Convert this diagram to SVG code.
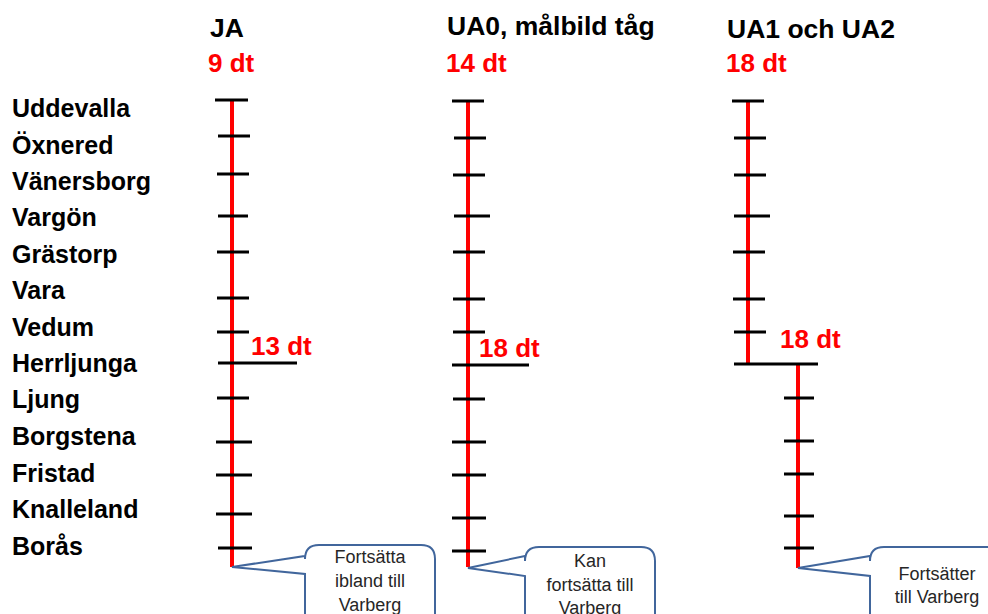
<svg xmlns="http://www.w3.org/2000/svg" width="988" height="614" viewBox="0 0 988 614">
<style>
.st{font-family:"Liberation Sans",Arial,sans-serif;font-weight:bold;font-size:25px;fill:#000}
.hd{font-family:"Liberation Sans",Arial,sans-serif;font-weight:bold;font-size:26.5px;fill:#000}
.rd{font-family:"Liberation Sans",Arial,sans-serif;font-weight:bold;font-size:26px;fill:#ff0000}
.ct{font-family:"Liberation Sans",Arial,sans-serif;font-size:18px;fill:#262626;text-anchor:middle}
.rl{stroke:#ff0000;stroke-width:4;fill:none}
.tk{stroke:#000;stroke-width:3;fill:none}
.co{fill:#fff;stroke:#41669c;stroke-width:2}
</style>
<g id="stations">
<text class="st" x="12" y="117">Uddevalla</text>
<text class="st" x="12" y="154">Öxnered</text>
<text class="st" x="12" y="190">Vänersborg</text>
<text class="st" x="12" y="226">Vargön</text>
<text class="st" x="12" y="263">Grästorp</text>
<text class="st" x="12" y="299">Vara</text>
<text class="st" x="12" y="336">Vedum</text>
<text class="st" x="12" y="372">Herrljunga</text>
<text class="st" x="12" y="408">Ljung</text>
<text class="st" x="12" y="445">Borgstena</text>
<text class="st" x="12" y="482">Fristad</text>
<text class="st" x="12" y="518">Knalleland</text>
<text class="st" x="12" y="555">Borås</text>
</g>
<g id="col-ja">
<text class="hd" x="210" y="37">JA</text>
<text class="rd" x="208" y="72">9 dt</text>
<text class="rd" x="251" y="355">13 dt</text>
<line class="rl" x1="232" y1="99" x2="232" y2="567"/>
<path class="tk" d="M215 100H248M218 136H250M217 174H249M218 216H248M217 252H249M217 298H249M217 332H249M218 363H297M217 398H249M216 442H252M216 475H252M216 514H252M218 548H252"/>
</g>
<g id="col-ua0">
<text class="hd" x="447" y="35">UA0, målbild tåg</text>
<text class="rd" x="446" y="72">14 dt</text>
<text class="rd" x="479" y="357">18 dt</text>
<line class="rl" x1="468" y1="101" x2="468" y2="567"/>
<path class="tk" d="M452 101H484M454 138H486M453 175H485M454 216H490M453 252H485M453 299H485M453 332H485M452 365H529M453 399H485M452 442H486M452 475H486M452 518H486M452 551H486"/>
</g>
<g id="col-ua12">
<text class="hd" x="727" y="38">UA1 och UA2</text>
<text class="rd" x="726" y="72">18 dt</text>
<text class="rd" x="780" y="348">18 dt</text>
<line class="rl" x1="748" y1="101" x2="748" y2="364"/>
<line class="rl" x1="798" y1="364" x2="798" y2="568"/>
<path class="tk" d="M732 101H764M734 138H766M734 175H766M734 216H770M733 252H765M733 299H765M734 332H766M734 364H818M784 398H814M784 441H814M784 474H814M784 516H814M784 548H814"/>
</g>
<g id="connectors">
<path class="co" d="M232 567 L305 556 L305 559 Q305 545 319 545 H421 Q435 545 435 559 V630 H305 V574 Z"/>
<path class="co" d="M468 568 L525 556 L525 561 Q525 547 539 547 H641 Q655 547 655 561 V630 H525 V576 Z"/>
<path class="co" d="M798 568 L870 556 L870 561 Q870 547 884 547 H1000 V630 H870 V576 Z"/>
</g>
<g id="callout-1">
<text class="ct" x="370" y="563">Fortsätta</text>
<text class="ct" x="370" y="587">ibland till</text>
<text class="ct" x="370" y="611">Varberg</text>
</g>
<g id="callout-2">
<text class="ct" x="590" y="567">Kan</text>
<text class="ct" x="590" y="591">fortsätta till</text>
<text class="ct" x="590" y="614">Varberg</text>
</g>
<g id="callout-3">
<text class="ct" x="937" y="580">Fortsätter</text>
<text class="ct" x="937" y="603">till Varberg</text>
</g>
</svg>
